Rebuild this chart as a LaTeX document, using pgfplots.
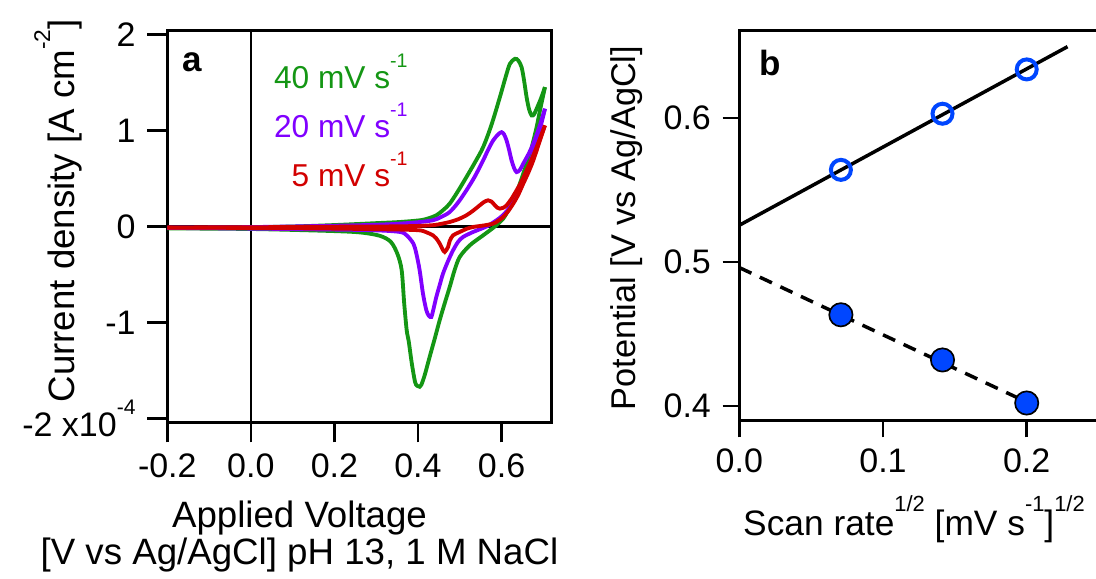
\documentclass[border=0pt]{standalone}
\usepackage{fontspec}
\setmainfont{Liberation Sans}
\usepackage{graphicx}
\usepackage{pgfplots}
\pgfplotsset{compat=1.18}

\definecolor{cvgreen}{RGB}{20,150,20}
\definecolor{cvpurple}{RGB}{128,0,255}
\definecolor{cvred}{RGB}{210,0,0}
\definecolor{mblue}{RGB}{0,70,255}

\newcommand{\sps}[1]{\raisebox{0.66em}{\scalebox{0.62}{#1}}}

\pgfplotsset{
  mystyle/.style={
    scale only axis,
    tick pos=left,
    tick align=outside,
    minor tick num=0,
    axis line style={line width=0.75pt},
    tick style={black, line width=0.75pt},
    ticklabel style={font=\fontsize{10.2}{12}\selectfont},
    label style={font=\fontsize{11}{11}\selectfont},
  }
}

\begin{document}
\begin{tikzpicture}
\path[use as bounding box] (-50.19pt,-47.01pt) rectangle (278.61pt,126.69pt);

% ---------------- panel a ----------------
\begin{axis}[mystyle,
  at={(0pt,0pt)}, anchor=south west,
  width=115.32pt, height=117.48pt,
  xmin=-0.2, xmax=0.72, ymin=-2.04, ymax=2.04,
  major tick length=6pt,
  xtick={-0.2,0,0.2,0.4,0.6}, xticklabels={-0.2,0.0,0.2,0.4,0.6},
  ytick={-2,-1,0,1,2}, yticklabels={-2 x10\sps{-4},-1,0,1,2},
  xlabel={Applied Voltage\\{[V vs Ag/AgCl] pH 13, 1 M NaCl}},
  xlabel style={align=center, xshift=-18pt},
  ylabel={Current density [A cm\sps{-2}]},
  ylabel style={at={(axis description cs:-0.284,0.54)}, anchor=center},
]
\addplot[black, line width=0.75pt] coordinates {(0,-2.04) (0,2.04)};
\addplot[black, line width=0.75pt] coordinates {(-0.2,0) (0.72,0)};

% 40 mV/s
\addplot[cvgreen, line width=1.15pt, smooth, tension=0.5] coordinates {
(-0.2,-0.015) (-0.1,-0.012) (0.0,-0.008) (0.1,0.0) (0.2,0.015) (0.3,0.035) (0.357,0.047) (0.405,0.065) (0.425,0.085) (0.444,0.117) (0.46,0.17) (0.476,0.238) (0.496,0.37) (0.516,0.515) (0.536,0.665) (0.556,0.827) (0.576,1.06) (0.596,1.347) (0.610,1.56) (0.620,1.695) (0.632,1.747) (0.640,1.73) (0.648,1.66) (0.654,1.52) (0.660,1.347) (0.666,1.22) (0.672,1.157) (0.678,1.17) (0.684,1.227) (0.694,1.33) (0.704,1.452)};
\addplot[cvgreen, line width=1.15pt, smooth, tension=0.5] coordinates {
(0.704,1.452) (0.694,1.25) (0.684,1.036) (0.676,0.89) (0.668,0.758) (0.652,0.550) (0.640,0.40) (0.628,0.273) (0.616,0.17) (0.604,0.082) (0.584,0.0) (0.556,-0.092) (0.524,-0.196) (0.500,-0.317) (0.488,-0.45) (0.476,-0.63) (0.464,-0.80) (0.452,-0.976) (0.440,-1.17) (0.428,-1.358) (0.416,-1.55) (0.408,-1.650) (0.404,-1.670) (0.398,-1.66) (0.393,-1.62) (0.385,-1.42) (0.378,-1.2) (0.373,-1.08) (0.367,-0.80) (0.361,-0.456) (0.351,-0.288) (0.335,-0.16) (0.308,-0.096) (0.257,-0.06) (0.171,-0.044) (0.0,-0.026) (-0.2,-0.02)};

% 20 mV/s
\addplot[cvpurple, line width=1.15pt, smooth, tension=0.5] coordinates {
(-0.2,-0.012) (0.0,-0.006) (0.2,0.008) (0.3,0.018) (0.357,0.03) (0.4,0.045) (0.436,0.065) (0.456,0.10) (0.476,0.151) (0.496,0.25) (0.516,0.377) (0.536,0.52) (0.556,0.689) (0.568,0.80) (0.580,0.897) (0.592,0.96) (0.600,0.983) (0.606,0.96) (0.612,0.897) (0.618,0.80) (0.624,0.689) (0.630,0.61) (0.636,0.567) (0.644,0.59) (0.652,0.655) (0.664,0.75) (0.676,0.863) (0.690,1.03) (0.704,1.227)};
\addplot[cvpurple, line width=1.15pt, smooth, tension=0.5] coordinates {
(0.704,1.227) (0.694,1.05) (0.684,0.897) (0.676,0.77) (0.668,0.655) (0.656,0.52) (0.644,0.411) (0.632,0.30) (0.620,0.203) (0.604,0.12) (0.588,0.065) (0.564,0.0) (0.532,-0.057) (0.508,-0.109) (0.496,-0.16) (0.484,-0.248) (0.472,-0.36) (0.460,-0.49) (0.452,-0.61) (0.444,-0.733) (0.436,-0.88) (0.432,-0.942) (0.426,-0.93) (0.420,-0.872) (0.412,-0.70) (0.404,-0.456) (0.396,-0.28) (0.389,-0.178) (0.373,-0.092) (0.357,-0.057) (0.3,-0.04) (0.2,-0.032) (0.0,-0.022) (-0.2,-0.015)};

% 5 mV/s
\addplot[cvred, line width=1.15pt, smooth, tension=0.5] coordinates {
(-0.2,-0.01) (0.0,-0.008) (0.2,-0.002) (0.3,0.0) (0.357,0.002) (0.4,0.006) (0.436,0.014) (0.456,0.028) (0.476,0.047) (0.496,0.075) (0.516,0.117) (0.532,0.165) (0.548,0.221) (0.558,0.255) (0.568,0.273) (0.576,0.26) (0.584,0.221) (0.590,0.196) (0.596,0.186) (0.604,0.195) (0.612,0.221) (0.624,0.29) (0.636,0.377) (0.648,0.47) (0.660,0.585) (0.672,0.70) (0.684,0.827) (0.694,0.94) (0.704,1.053)};
\addplot[cvred, line width=1.15pt, smooth, tension=0.5] coordinates {
(0.704,1.053) (0.690,0.87) (0.676,0.689) (0.664,0.56) (0.652,0.446) (0.640,0.33) (0.628,0.238) (0.616,0.16) (0.604,0.099) (0.592,0.06) (0.580,0.03) (0.556,0.01) (0.532,-0.005) (0.516,-0.025) (0.500,-0.057) (0.484,-0.092) (0.476,-0.15) (0.472,-0.213) (0.464,-0.265) (0.458,-0.23) (0.452,-0.178) (0.444,-0.125) (0.436,-0.092) (0.420,-0.06) (0.404,-0.04) (0.357,-0.032) (0.3,-0.028) (0.2,-0.022) (0.0,-0.015) (-0.2,-0.012)};

\node[anchor=base west, inner sep=0pt, font=\fontsize{10.5}{12}\selectfont\bfseries] at (axis description cs:0.0375,0.896) {a};
\node[anchor=base east, inner sep=0pt, text=cvgreen, font=\fontsize{9.5}{11}\selectfont] at (axis description cs:0.627,0.852) {40 mV s\sps{-1}};
\node[anchor=base east, inner sep=0pt, text=cvpurple, font=\fontsize{9.5}{11}\selectfont] at (axis description cs:0.627,0.728) {20 mV s\sps{-1}};
\node[anchor=base east, inner sep=0pt, text=cvred, font=\fontsize{9.5}{11}\selectfont] at (axis description cs:0.627,0.603) {5 mV s\sps{-1}};
\end{axis}

% ---------------- panel b ----------------
\begin{axis}[mystyle,
  at={(171.6pt,0.48pt)}, anchor=south west,
  width=107.61pt, height=117.0pt,
  xmin=0, xmax=0.2496, ymin=0.3898, ymax=0.6608,
  major tick length=5pt,
  xtick={0,0.1,0.2}, xticklabels={0.0,0.1,0.2},
  ytick={0.4,0.5,0.6}, yticklabels={0.4,0.5,0.6},
  xlabel={Scan rate\sps{1/2} [mV s\sps{-1}]\sps{1/2}},
  xlabel style={font=\fontsize{10.6}{10.6}\selectfont, xshift=-1.4pt},
  ylabel={Potential [V vs Ag/AgCl]},
  ylabel style={font=\fontsize{10.3}{10.3}\selectfont, at={(axis description cs:-0.315,0.494)}, anchor=center},
]
\addplot[only marks, mark=o, mark size=3pt, mblue, line width=1.2pt] coordinates {(0.0707,0.5641) (0.1414,0.6031) (0.2,0.6339)};
\addplot[only marks, mark=*, mark size=3.5pt, draw=black, fill=mblue, line width=0.5pt] coordinates {(0.0707,0.4634) (0.1414,0.4320) (0.2,0.4021)};
\addplot[black, line width=1.05pt] coordinates {(0,0.5256) (0.2284,0.6497)};
\addplot[black, line width=1.05pt, dash pattern=on 4pt off 2.8pt] coordinates {(0,0.4962) (0.2059,0.4000)};
\node[anchor=base west, inner sep=0pt, font=\fontsize{10.5}{12}\selectfont\bfseries] at (axis description cs:0.0552,0.885) {b};
\end{axis}
\end{tikzpicture}
\end{document}
